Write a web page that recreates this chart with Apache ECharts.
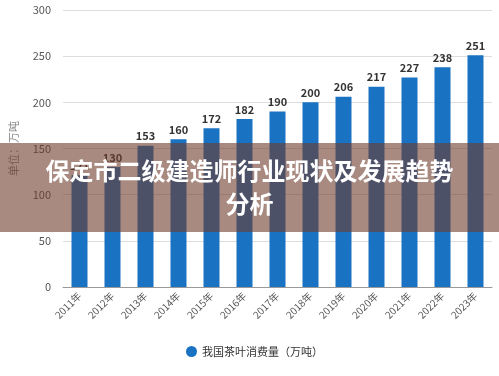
<!DOCTYPE html>
<html>
<head>
<meta charset="utf-8">
<script src="https://cdn.jsdelivr.net/npm/echarts@6/dist/echarts.min.js"></script>
<style>
html,body{margin:0;padding:0;background:#fff;}
#main{width:499px;height:376px;}
</style>
</head>
<body>
<div id="main"></div>
<script>
// data
var years = ['2011年','2012年','2013年','2014年','2015年','2016年','2017年','2018年','2019年','2020年','2021年','2022年','2023年'];
var values = [121, 130, 153, 160, 172, 182, 190, 200, 206, 217, 227, 238, 251];
var seriesName = '我国茶叶消费量（万吨）';
var titleLines = ['保定市二级建造师行业现状及发展趋势', '分析'];

var myChart = echarts.init(document.getElementById('main'));

var titleFont = 'bold 24px "Noto Sans CJK SC", sans-serif';

var option = {
    animation: false,
    textStyle: {fontFamily: '"Noto Sans CJK SC", "Noto Sans", sans-serif'},
    grid: {left: 51, right: 7, top: 10, bottom: 89},
    legend: {
        data: [seriesName],
        left: 181,
        top: 341,
        icon: 'circle',
        itemWidth: 11,
        itemHeight: 11,
        itemGap: 6,
        textStyle: {color: '#333', fontSize: 11}
    },
    xAxis: {
        type: 'category',
        data: years,
        axisLine: {lineStyle: {color: '#999'}},
        axisTick: {alignWithLabel: true, lineStyle: {color: '#999'}, length: 4},
        axisLabel: {rotate: 45, color: '#555', fontSize: 10, margin: 7, interval: 0}
    },
    yAxis: {
        type: 'value',
        min: 0,
        max: 300,
        interval: 50,
        name: '单位：万吨',
        nameLocation: 'middle',
        nameRotate: 90,
        nameGap: 44,
        nameTextStyle: {color: '#888', fontSize: 11},
        axisLine: {show: false},
        axisTick: {show: false},
        axisLabel: {color: '#555', fontSize: 11, margin: 12},
        splitLine: {lineStyle: {color: '#ddd'}}
    },
    series: [{
        name: seriesName,
        type: 'bar',
        data: values,
        barWidth: 16,
        itemStyle: {color: '#1a72c2'},
        label: {
            show: true,
            position: 'top',
            color: '#333',
            fontSize: 11,
            fontWeight: 'bold',
            distance: 4
        }
    }],
    graphic: [
        {
            type: 'rect',
            left: 0,
            top: 143,
            shape: {width: 499, height: 89},
            style: {fill: 'rgba(110,60,43,0.6)'},
            z: 100
        },
        {
            type: 'text',
            left: 'center',
            top: 159,
            style: {text: titleLines[0], fill: '#fff', font: titleFont},
            z: 101
        },
        {
            type: 'text',
            left: 'center',
            top: 192,
            style: {text: titleLines[1], fill: '#fff', font: titleFont},
            z: 101
        }
    ]
};
myChart.setOption(option);
</script>
</body>
</html>
